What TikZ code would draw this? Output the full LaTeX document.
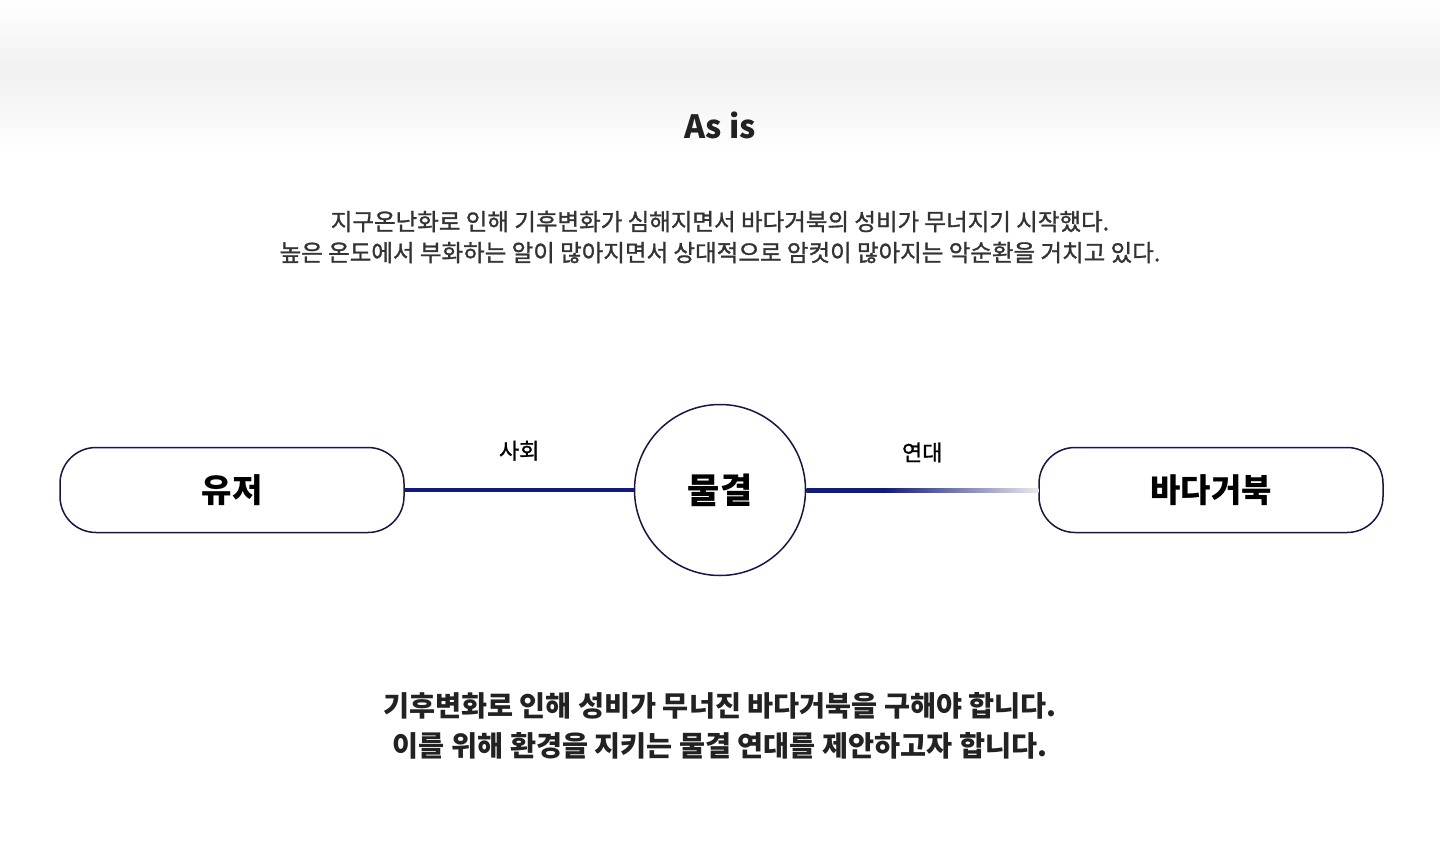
\documentclass[tikz,border=0pt]{standalone}
\usepackage{fontspec}
\setmainfont{Noto Sans CJK KR}
\newfontfamily\mediumKR[FakeBold=1.2]{Noto Sans CJK KR}
\usepackage{xcolor}
\usepackage{tikz}
\usetikzlibrary{positioning}
\definecolor{bgGray}{RGB}{241,241,241}
\definecolor{lineNavy}{RGB}{18,26,130}
\definecolor{edgeNavy}{RGB}{22,22,72}
\definecolor{textDark}{RGB}{34,34,34}
\definecolor{textBody}{RGB}{51,51,51}
\pgfdeclarehorizontalshading{fadeLine}{100bp}{color(0bp)=(lineNavy); color(25bp)=(lineNavy); color(42bp)=(lineNavy); color(62bp)=(lineNavy!45!white); color(75bp)=(white!92!black); color(100bp)=(white!92!black)}
\tikzset{
  pillNode/.style={
    rounded corners=36pt,
    draw=edgeNavy,
    line width=1.5pt,
    fill=white,
    minimum width=344pt,
    minimum height=85pt,
    font=\fontsize{33}{38}\selectfont\bfseries,
    text=black
  },
  hubNode/.style={
    circle,
    draw=edgeNavy,
    line width=1.5pt,
    fill=white,
    minimum size=171pt,
    inner sep=0pt,
    font=\fontsize{35}{40}\selectfont\bfseries,
    text=black
  },
  linkLabel/.style={font=\fontsize{22}{26}\selectfont\mediumKR, text=black},
  bodyText/.style={align=center, text=textBody, font=\fontsize{23.5}{31}\selectfont\mediumKR},
  closingText/.style={align=center, text=textDark, font=\fontsize{28.3}{40}\selectfont\bfseries},
  solidLink/.style={draw=lineNavy, line width=4pt}
}

\begin{document}
\begin{tikzpicture}[x=1pt, y=-1pt]
  \useasboundingbox (0,0) rectangle (1440,860);
  \shade[top color=white, bottom color=bgGray] (0,0) rectangle (1440,70);
  \shade[top color=bgGray, bottom color=white] (0,70) rectangle (1440,155);

  \node[font=\fontsize{32}{36}\selectfont\bfseries, text=textDark] (title) at (720,125) {As is};
  \node[bodyText] (intro) at (720,237) {지구온난화로 인해 기후변화가 심해지면서 바다거북의 성비가 무너지기 시작했다.\\높은 온도에서 부화하는 알이 많아지면서 상대적으로 암컷이 많아지는 악순환을 거치고 있다.};

  \node[hubNode] (wave) at (720,490) {물결};
  \node[pillNode, left=229pt of wave] (user) {유저};
  \node[pillNode, right=232pt of wave] (turtle) {바다거북};

  \draw[solidLink] (user) -- node[linkLabel, above=24pt]{사회} (wave);
  \shade[shading=fadeLine] ([yshift=2pt]wave.east) rectangle ([yshift=-2pt]turtle.west);
  \path (wave) -- node[linkLabel, above=24pt]{연대} (turtle);

  \node[closingText] (closing) at (720,726) {기후변화로 인해 성비가 무너진 바다거북을 구해야 합니다.\\이를 위해 환경을 지키는 물결 연대를 제안하고자 합니다.};
\end{tikzpicture}
\end{document}
